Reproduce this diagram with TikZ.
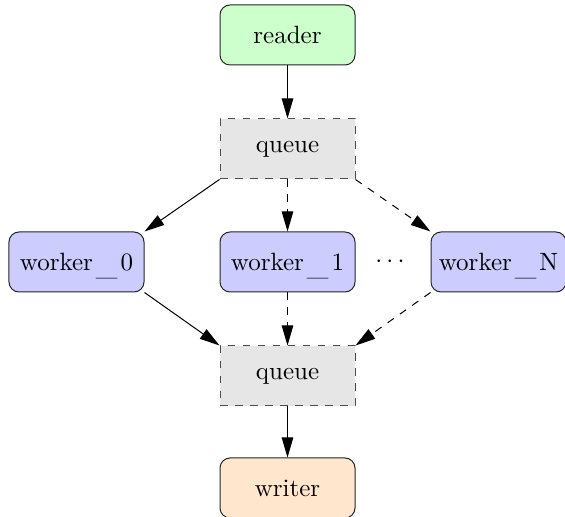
\documentclass[tikz,border=0pt]{standalone}
\usetikzlibrary{arrows.meta}
\definecolor{readerfill}{HTML}{CCFFCC}
\definecolor{workerfill}{HTML}{CCCCFF}
\definecolor{queuefill}{HTML}{E6E6E6}
\definecolor{writerfill}{HTML}{FFE6CC}
\newcommand{\usc}{\kern1.2pt\smash{\raisebox{-2pt}{\scalebox{1.15}[1]{\_}}}\kern1.2pt}
\tikzset{
  procbox/.style={draw=black!85, rounded corners=4pt, minimum width=54pt, minimum height=24pt, inner sep=2pt, line width=0.4pt},
  queuebox/.style={draw=black!70, dashed, fill=queuefill, minimum width=54pt, minimum height=24pt, inner sep=2pt, line width=0.4pt},
  flow/.style={-{Triangle[length=8pt,width=4.6pt]}, line width=0.4pt},
  dflow/.style={flow, dashed},
}
\begin{document}
\begin{tikzpicture}[x=0.4pt,y=-0.4pt]
\useasboundingbox (0,0) rectangle (565,517);
\node[procbox, fill=readerfill] (reader) at (287.5,35) {reader};
\node[queuebox] (q1) at (287.5,149) {queue};
\node[procbox, fill=workerfill] (w0) at (76.5,262) {worker\usc 0};
\node[procbox, fill=workerfill] (w1) at (287.5,262) {worker\usc 1};
\node (dots) at (390,262) {$\cdots$};
\node[procbox, fill=workerfill] (wN) at (498.5,262) {worker\usc N};
\node[queuebox] (q2) at (287.5,376) {queue};
\node[procbox, fill=writerfill] (writer) at (287.5,488) {writer};
\draw[flow] (reader) -- (q1);
\draw[flow] (q1.south west) -- (w0.north east);
\draw[dflow] (q1) -- (w1);
\draw[dflow] (q1.south east) -- (wN.north west);
\draw[flow] (w0.south east) -- (q2.north west);
\draw[dflow] (w1) -- (q2);
\draw[dflow] (wN.south west) -- (q2.north east);
\draw[flow] (q2) -- (writer);
\end{tikzpicture}
\end{document}
